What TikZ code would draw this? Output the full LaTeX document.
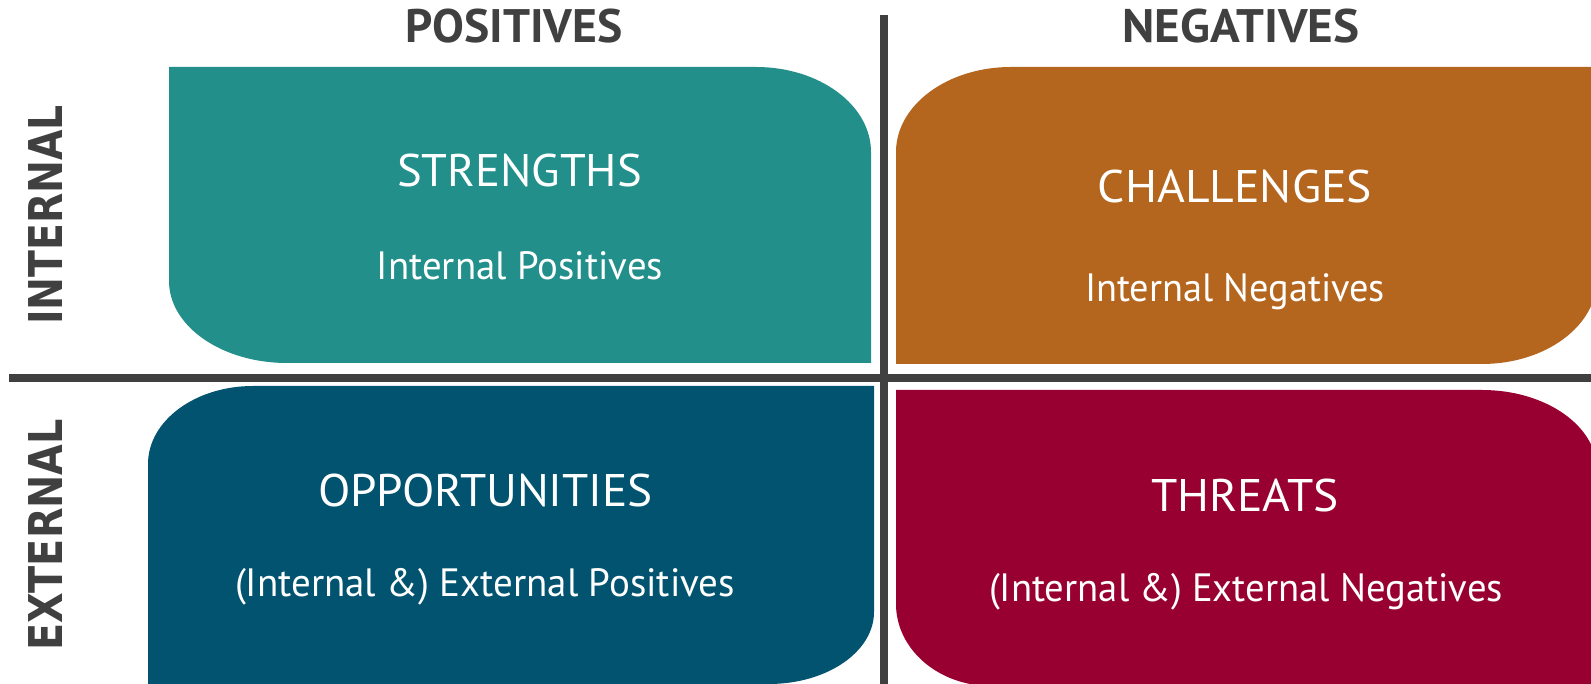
\documentclass[tikz,border=0pt]{standalone}
\usepackage{fontspec}
\usepackage{graphicx}
\setmainfont{PT Sans}
\newfontfamily\headfont{PT Sans}[BoldFont={PT Sans Bold}]
\newfontfamily\sidefont{DejaVu Sans}[BoldFont={DejaVu Sans Bold}]

\definecolor{swteal}{RGB}{34,143,139}
\definecolor{swochre}{RGB}{180,101,30}
\definecolor{swnavy}{RGB}{1,83,111}
\definecolor{swwine}{RGB}{151,0,48}
\definecolor{swgrey}{RGB}{64,64,64}

% stretch a text box horizontally to a given width, keeping its height
\newcommand{\fitw}[2]{\resizebox{#1}{\height}{#2}}

\tikzset{
  quad/.style={draw=none},
  divider/.style={draw=swgrey, line width=8pt},
  colhead/.style={anchor=base, inner sep=0pt, text=swgrey,
    font=\headfont\bfseries\fontsize{47}{50}\selectfont},
  rowhead/.style={anchor=base, inner sep=0pt, rotate=90, text=swgrey,
    font=\sidefont\bfseries\fontsize{46.6}{50}\selectfont},
  qtitle/.style={anchor=base, inner sep=0pt, text=white,
    font=\fontsize{45.7}{50}\selectfont},
  qsub/.style={anchor=base, inner sep=0pt, text=white,
    font=\fontsize{39.5}{44}\selectfont},
}

\begin{document}
\begin{tikzpicture}[x=1pt,y=1pt]
\useasboundingbox (0,0) rectangle (1591,684);
\clip (0,0) rectangle (1591,684);

% quadrant panels with two diagonally rounded corners
\fill[quad, swteal] (169,617) -- (756,617)
  arc[start angle=90, end angle=0, x radius=115, y radius=85]
  -- (871,321) -- (287,321)
  arc[start angle=270, end angle=180, x radius=118, y radius=82]
  -- cycle;
\fill[quad, swochre] (896,532)
  arc[start angle=180, end angle=90, x radius=115, y radius=85]
  -- (1597,617) -- (1597,405)
  arc[start angle=0, end angle=-90, x radius=115, y radius=85]
  -- (896,320) -- cycle;
\fill[quad, swnavy] (148,220)
  arc[start angle=180, end angle=90, x radius=105, y radius=78]
  -- (874,298) -- (874,72)
  arc[start angle=0, end angle=-90, x radius=105, y radius=72]
  -- (148,0) -- cycle;
\fill[quad, swwine] (896,294) -- (1482,294)
  arc[start angle=90, end angle=0, x radius=115, y radius=80]
  -- (1597,-2) -- (991,-2)
  arc[start angle=270, end angle=180, x radius=95, y radius=82]
  -- cycle;

% axis dividers
\coordinate (vtop) at (884,669);
\coordinate (vbot) at (884,-10);
\coordinate (hleft) at (9,306);
\coordinate (hright) at (1600,306);
\draw[divider] (vtop) -- (vbot);
\draw[divider] (hleft) -- (hright);

% column and row headings
\node[colhead] (pos) at (514,641) {\fitw{217pt}{POSITIVES}};
\node[colhead] (neg) at (1241,641) {\fitw{237pt}{NEGATIVES}};
\node[rowhead] (int) at (62,469) {\fitw{220pt}{INTERNAL}};
\node[rowhead] (ext) at (62,149) {\fitw{232pt}{EXTERNAL}};

% quadrant labels
\node[qtitle] (s) at (519.5,497) {\fitw{245pt}{STRENGTHS}};
\node[qsub] (s2) at (520,404) {\fitw{286pt}{Internal Positives}};
\node[qtitle] (c) at (1235,481) {\fitw{274pt}{CHALLENGES}};
\node[qsub] (c2) at (1235,382) {\fitw{300pt}{Internal Negatives}};
\node[qtitle] (o) at (485.5,177) {\fitw{335pt}{OPPORTUNITIES}};
\node[qsub] (o2) at (485,87) {\fitw{500pt}{(Internal \&) External Positives}};
\node[qtitle] (t) at (1245,172) {\fitw{188pt}{THREATS}};
\node[qsub] (t2) at (1246,82) {\fitw{514pt}{(Internal \&) External Negatives}};
\end{tikzpicture}
\end{document}
